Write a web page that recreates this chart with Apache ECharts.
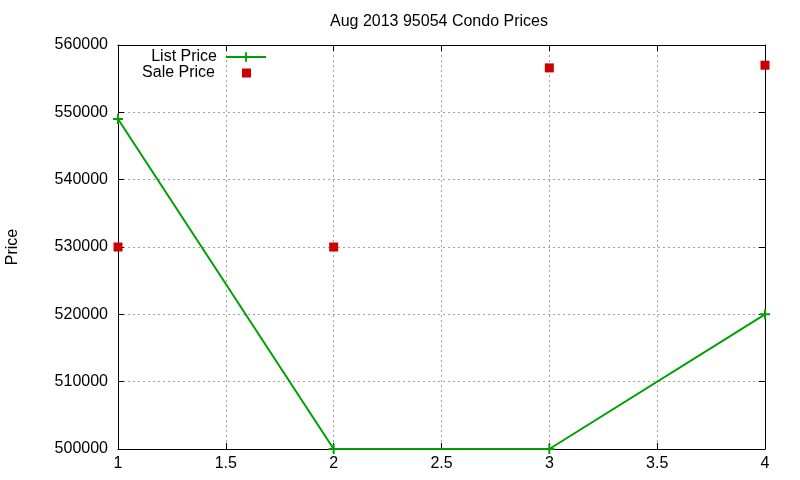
<!DOCTYPE html>
<html>
<head>
<meta charset="utf-8">
<script src="https://cdn.jsdelivr.net/npm/echarts@6/dist/echarts.min.js"></script>
<style>
  html, body { margin: 0; padding: 0; background: #fff; }
  #chart { width: 800px; height: 480px; }
</style>
</head>
<body>
<div id="chart"></div>
<script>
// data
const xValues = [1, 2, 3, 4];
const listPrice = [549000, 500000, 500000, 520000];
const salePrice = [530000, 530000, 556600, 557000];

const FONT = '"Liberation Sans", Arial, sans-serif';
const plusPath = 'path://M4,0H6V4H10V6H6V10H4V6H0V4H4Z';

const chartDom = document.getElementById('chart');
const myChart = echarts.init(chartDom);

const option = {
    animation: false,
    title: {
        text: 'Aug 2013 95054 Condo Prices',
        left: 325,
        top: 9,
        textStyle: { fontFamily: FONT, fontSize: 16, fontWeight: 'normal', color: '#000' },
    },
    legend: [
        {
            data: ['List Price'],
            right: 528,
            top: 44,
            align: 'right',
            itemWidth: 40,
            itemHeight: 12,
            itemGap: 0,
            textStyle: { fontFamily: FONT, fontSize: 16, color: '#000', padding: [0, 4, 0, 0] },
        },
        {
            data: ['Sale Price'],
            right: 544,
            top: 60,
            align: 'right',
            itemWidth: 9,
            itemHeight: 9,
            textStyle: { fontFamily: FONT, fontSize: 16, color: '#000', padding: [0, 22, 0, 0] },
        },
    ],
    grid: { left: 118, right: 35, top: 45, bottom: 31, containLabel: false, outerBoundsMode: 'none' },
    xAxis: [
        {
            type: 'value',
            min: 1,
            max: 4,
            interval: 0.5,
            axisLine: { lineStyle: { color: '#000', width: 1 } },
            axisTick: { inside: true, length: 6, lineStyle: { color: '#000' } },
            axisLabel: { fontFamily: FONT, fontSize: 16, color: '#000', margin: 7 },
            splitLine: { lineStyle: { color: '#a0a0a0', type: [2, 3] } },
        },
        {
            type: 'value',
            position: 'top',
            min: 1,
            max: 4,
            interval: 0.5,
            axisLine: { show: true, lineStyle: { color: '#000', width: 1 } },
            axisTick: { show: true, inside: true, length: 6, lineStyle: { color: '#000' } },
            axisLabel: { show: false },
            splitLine: { show: false },
        },
    ],
    yAxis: [
        {
            type: 'value',
            min: 500000,
            max: 560000,
            interval: 10000,
            name: 'Price',
            nameLocation: 'middle',
            nameGap: 97,
            nameTextStyle: { fontFamily: FONT, fontSize: 16, color: '#000' },
            axisLine: { show: true, lineStyle: { color: '#000', width: 1 } },
            axisTick: { show: true, inside: true, length: 6, lineStyle: { color: '#000' } },
            axisLabel: { fontFamily: FONT, fontSize: 16, color: '#000', margin: 10, formatter: (v) => String(v) },
            splitLine: { lineStyle: { color: '#a0a0a0', type: [2, 3] } },
        },
        {
            type: 'value',
            position: 'right',
            min: 500000,
            max: 560000,
            interval: 10000,
            axisLine: { show: true, lineStyle: { color: '#000', width: 1 } },
            axisTick: { show: true, inside: true, length: 6, lineStyle: { color: '#000' } },
            axisLabel: { show: false },
            splitLine: { show: false },
        },
    ],
    series: [
        {
            name: 'List Price',
            type: 'line',
            data: xValues.map((x, i) => [x, listPrice[i]]),
            symbol: plusPath,
            symbolSize: 10,
            showSymbol: true,
            color: '#00a000',
            itemStyle: { color: '#00a000' },
            lineStyle: { color: '#00a000', width: 2 },
            clip: false,
        },
        {
            name: 'Sale Price',
            type: 'scatter',
            data: xValues.map((x, i) => [x, salePrice[i]]),
            symbol: 'rect',
            symbolSize: 9,
            color: '#cc0000',
            itemStyle: { color: '#cc0000', opacity: 1 },
            clip: false,
        },
    ],
};
myChart.setOption(option);
</script>
</body>
</html>
